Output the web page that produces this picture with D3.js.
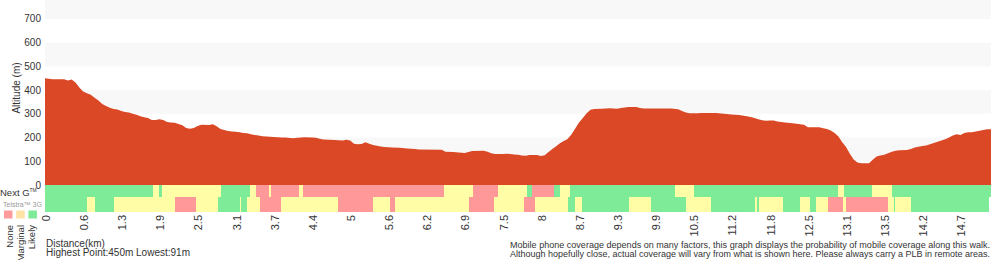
<!DOCTYPE html>
<html>
<head>
<meta charset="utf-8">
<script src="https://cdn.jsdelivr.net/npm/d3@7"></script>
<style>
  body { margin: 0; background: #fff; }
  svg { display: block; font-family: "Liberation Sans", Arial, sans-serif; }
  text { fill: #333; }
</style>
</head>
<body>
<div id="chart"></div>
<script>
// track point index (10 points between distance labels) and altitude in metres
var pointIdx = [0, 1, 2, 5, 6, 7, 8, 9, 10, 11, 12, 13, 14, 15, 16, 17, 18, 19, 20, 21, 22, 23, 24, 25, 26, 27, 28, 29,
    30, 31, 32, 33, 34, 35, 36, 37, 38, 39, 40, 41, 43, 44, 45, 46, 47, 48, 49, 50, 51, 52, 53, 54, 55, 56, 57, 58, 59,
    60, 62, 63, 65, 67, 68, 70, 71, 72, 73, 76, 78, 79, 80, 81, 82, 83, 84, 85, 86, 87, 88, 89, 91, 93, 95, 97, 98,
    104, 105, 107, 110, 111, 112, 115, 116, 117, 118, 120, 121, 123, 124, 125, 126, 127, 128, 129, 130, 131, 132, 133,
    134, 135, 136, 137, 138, 139, 140, 141, 142, 143, 144, 146, 148, 150, 151, 153, 155, 156, 157, 164, 166, 167, 168,
    169, 171, 172, 176, 178, 180, 182, 184, 185, 186, 187, 188, 189, 190, 191, 192, 194, 196, 197, 199, 200, 202, 203,
    204, 205, 206, 207, 208, 209, 210, 211, 212, 213, 214, 216, 217, 218, 219, 220, 221, 222, 223, 224, 226, 227, 228,
    229, 230, 231, 232, 233, 234, 235, 236, 237, 238, 239, 240, 241, 242, 243, 244, 245, 246, 247, 248];
var altitude = [450, 448, 446, 446, 441, 445, 432, 411, 394, 387, 380, 368, 356, 342, 333, 326, 320, 318, 312, 308, 306, 300, 296, 290, 286, 282, 274, 274,
    277, 274, 266, 263, 262, 257, 252, 240, 237, 240, 249, 254, 253, 256, 248, 236, 232, 228, 226, 224, 222, 219, 218, 214, 211, 209, 206, 204, 203,
    202, 200, 200, 197, 200, 201, 200, 199, 195, 192, 190, 188, 191, 188, 174, 172, 173, 180, 174, 169, 165, 162, 160, 158, 157, 154, 152, 150,
    149, 140, 139, 135, 139, 143, 144, 140, 134, 131, 131, 132, 129, 128, 124, 123, 127, 127, 126, 122, 125, 139, 152,
    163, 176, 185, 194, 213, 238, 263, 283, 302, 317, 320, 321, 324, 321, 325, 329, 329, 325, 323, 323, 319, 312, 306,
    302, 302, 304, 304, 300, 297, 295, 290, 287, 283, 277, 273, 271, 272, 272, 268, 264, 260, 258, 254, 244, 243, 243,
    239, 236, 230, 219, 205, 180, 160, 132, 108, 95, 92, 92, 106, 120, 124, 128, 134, 140, 144, 146, 148, 152, 158,
    161, 164, 167, 172, 177, 182, 188, 193, 200, 209, 214, 211, 219, 222, 222, 226, 229, 232, 235, 235];

var distLabels = ["0", "0.6", "1.3", "1.9", "2.5", "3.1", "3.7", "4.4", "5", "5.6", "6.2", "6.9", "7.5", "8",
    "8.7", "9.3", "9.9", "10.5", "11.2", "11.8", "12.5", "13.1", "13.5", "14.2", "14.7"];
var altTicks = [0, 100, 200, 300, 400, 500, 600, 700];

// coverage runs: [from index, to index, status] 0 = None, 1 = Marginal, 2 = Likely
var nextG = [[0, 28.3, 2], [28.3, 29.9, 1], [29.9, 30.7, 2], [30.7, 46.1, 1], [46.1, 53.7, 2], [53.7, 55.3, 1],
    [55.3, 58.7, 0], [58.7, 59.2, 1], [59.2, 66.6, 0], [66.6, 67.6, 1], [67.6, 104.6, 0], [104.6, 112.2, 1],
    [112.2, 118.7, 0], [118.7, 126.3, 1], [126.3, 127.7, 2], [127.7, 133.4, 0], [133.4, 135.0, 2], [135.0, 137.6, 1],
    [137.6, 165.1, 2], [165.1, 170.1, 1], [170.1, 207.9, 2], [207.9, 209.4, 1], [209.4, 216.7, 2], [216.7, 222.0, 1],
    [222.0, 248, 2]];
var telstra3G = [[0, 11.0, 2], [11.0, 13.1, 1], [13.1, 18.1, 2], [18.1, 34.1, 1], [34.1, 39.6, 0], [39.6, 45.3, 1],
    [45.3, 51.1, 2], [51.1, 51.4, 1], [51.4, 52.9, 2], [52.9, 56.4, 1], [56.4, 61.9, 0], [61.9, 76.8, 1],
    [76.8, 86.0, 0], [86.0, 90.4, 1], [90.4, 91.7, 0], [91.7, 111.1, 1], [111.1, 117.7, 0], [117.7, 125.6, 1],
    [125.6, 128.4, 0], [128.4, 137.1, 1], [137.1, 138.9, 2], [138.9, 140.8, 1], [140.8, 153.2, 2], [153.2, 158.8, 1],
    [158.8, 168.0, 2], [168.0, 174.6, 1], [174.6, 186.2, 2], [186.2, 186.7, 1], [186.7, 187.2, 2], [187.2, 193.4, 1],
    [193.4, 197.9, 2], [197.9, 200.5, 1], [200.5, 202.1, 2], [202.1, 205.2, 1], [205.2, 209.2, 0], [209.2, 209.9, 1],
    [209.9, 221.0, 0], [221.0, 222.5, 1], [222.5, 222.8, 2], [222.8, 227.0, 1], [227.0, 247.4, 2]];

var statusNames = ["None", "Marginal", "Likely"];
var statusColors = ["#ff9999", "#fffda6", "#7deb98"];
var legendColors = ["#ff9b9b", "#ffe2a6", "#7deb98"];

var W = 1000, H = 260;
var svg = d3.select("#chart").append("svg").attr("width", W).attr("height", H);

var x = d3.scaleLinear().domain([0, 248]).range([45, 991]);
var y = d3.scaleLinear().domain([0, 780]).range([185, 0]);

// alternating background bands
var bands = d3.range(100, 780, 200);
svg.append("g").selectAll("rect").data(bands).enter().append("rect")
    .attr("x", x(0))
    .attr("width", x(248) - x(0))
    .attr("y", d => y(Math.min(d + 100, 780)))
    .attr("height", d => y(d) - y(Math.min(d + 100, 780)))
    .attr("fill", "#f8f8f8");

var profile = pointIdx.map((p, i) => ({ idx: p, alt: altitude[i] }));
var area = d3.area()
    .x(d => x(d.idx))
    .y0(y(0))
    .y1(d => y(d.alt));
svg.append("path").datum(profile)
    .attr("d", area)
    .attr("fill", "#da4826");

// coverage strips
function strip(runs, top, h) {
    svg.append("g").selectAll("rect").data(runs).enter().append("rect")
        .attr("x", d => x(d[0]))
        .attr("y", top)
        .attr("width", d => x(d[1]) - x(d[0]))
        .attr("height", h)
        .attr("fill", d => statusColors[d[2]])
        .attr("shape-rendering", "crispEdges");
}
strip(nextG, 185, 12);
strip(telstra3G, 197, 15);

// y axis labels
svg.append("g").selectAll("text").data(altTicks).enter().append("text")
    .attr("x", 41)
    .attr("y", d => y(d))
    .attr("dy", "0.35em")
    .attr("text-anchor", "end")
    .attr("font-size", "10px")
    .attr("fill", "#444")
    .text(d => d);

svg.append("text")
    .attr("transform", "translate(20,88) rotate(-90)")
    .attr("text-anchor", "middle")
    .attr("font-size", "10px")
    .text("Altitude (m)");

// x labels
svg.append("g").selectAll("text").data(distLabels).enter().append("text")
    .attr("transform", (d, i) => "translate(" + (x(i * 10) + 1) + ",215) rotate(-90)")
    .attr("dy", "0.35em")
    .attr("text-anchor", "end")
    .attr("font-size", "11px")
    .text(d => d);

// strip labels
var ng = svg.append("text").attr("x", 0).attr("y", 195.5).attr("font-size", "9.5px");
ng.append("tspan").text("Next G");
ng.append("tspan").attr("font-size", "5px").attr("dy", "-4").text("TM");
svg.append("text").attr("x", 3).attr("y", 206.5).attr("font-size", "7px").style("fill", "#999")
    .text("Telstra™ 3G");

// legend
svg.append("g").selectAll("rect").data(statusNames).enter().append("rect")
    .attr("x", (d, i) => 4 + i * 12.2)
    .attr("y", 210.5)
    .attr("width", 8.5)
    .attr("height", 8)
    .attr("fill", (d, i) => legendColors[i]);
svg.append("g").selectAll("text").data(statusNames).enter().append("text")
    .attr("transform", (d, i) => "translate(" + (12.5 + i * 11) + ",225) rotate(-90)")
    .attr("text-anchor", "end")
    .attr("font-size", "9.5px")
    .text(d => d);

// footer
svg.append("text").attr("x", 46).attr("y", 246.5).attr("font-size", "10px").text("Distance(km)");
svg.append("text").attr("x", 46).attr("y", 256).attr("font-size", "10px").text("Highest Point:450m Lowest:91m");

var notes = ["Mobile phone coverage depends on many factors, this graph displays the probability of mobile coverage along this walk.",
    "Although hopefully close, actual coverage will vary from what is shown here. Please always carry a PLB in remote areas."];
svg.append("g").selectAll("text").data(notes).enter().append("text")
    .attr("x", 510)
    .attr("y", (d, i) => 247.5 + i * 9)
    .attr("font-size", "8.6px")
    .attr("textLength", 480)
    .attr("lengthAdjust", "spacingAndGlyphs")
    .text(d => d);
</script>
</body>
</html>
